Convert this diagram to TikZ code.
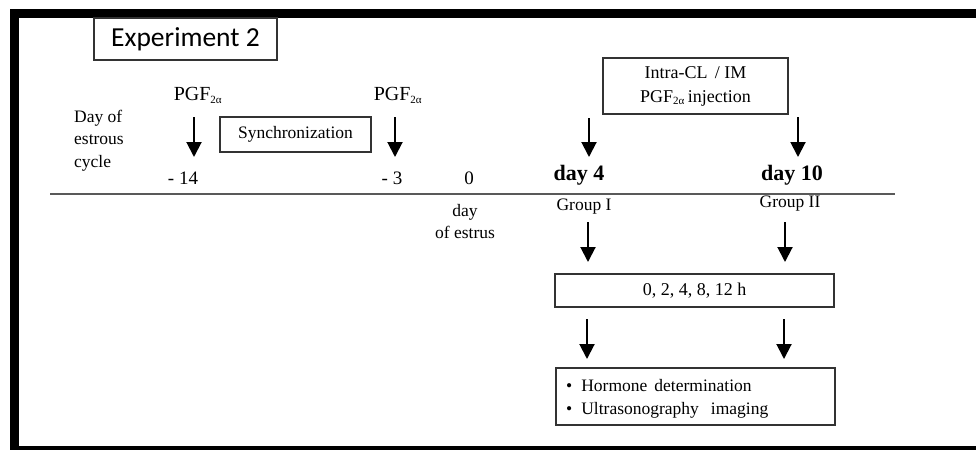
\documentclass[tikz,border=0pt]{standalone}
\usepackage{fontspec}
\setmainfont{Liberation Serif}
\newfontfamily\calib{Carlito}
\usetikzlibrary{arrows.meta}
\begin{document}
\begin{tikzpicture}[x=1pt,y=-1pt,
  txt/.style={font=\fontsize{17.5}{22.5}\selectfont, inner sep=0pt},
  pgf/.style={font=\fontsize{20}{24}\selectfont, inner sep=0pt},
  bold/.style={font=\fontsize{22}{26}\selectfont\bfseries, inner sep=0pt},
  boxed/.style={draw=black!80, line width=1.2pt, inner sep=0pt},
  arr/.style={line width=2pt, -{Triangle[width=15pt,length=15pt]}},
]
\useasboundingbox (0,0) rectangle (976,450);
\fill[white] (0,0) rectangle (976,450);
% frame
\fill[black] (10,9) rectangle (976,18);
\fill[black] (10,9) rectangle (19,450);
\fill[black] (10,446) rectangle (976,450);

% title
\node[boxed, minimum width=183pt, minimum height=42pt, font=\calib\fontsize{27.5}{30}\selectfont] (exp) at (185.5,39) {Experiment 2};

% left label
\node[txt, align=left, anchor=west] (daylbl) at (74,140.5) {Day of\\estrous\\cycle};

% PGF labels
\newcommand{\pgfa}[1][11]{PGF\textsubscript{\fontsize{#1}{#1}\selectfont 2α}}
\node[pgf] (pgf1) at (198,95) {\pgfa};
\node[pgf] (pgf2) at (398,95) {\pgfa};

% arrows at -14 and -3
\coordinate (a1s) at (194,117); \coordinate (a1e) at (194,157);
\coordinate (a2s) at (395,117); \coordinate (a2e) at (395,157);
\draw[arr] (a1s) -- (a1e);
\draw[arr] (a2s) -- (a2e);

% synchronization box
\node[boxed, minimum width=151pt, minimum height=35pt, txt, draw=black!80, line width=1.2pt] (sync) at (295.5,134.5) {Synchronization};

% day numbers
\node[pgf, font=\fontsize{19}{22}\selectfont] (m14) at (183,178) {- 14};
\node[pgf, font=\fontsize{19}{22}\selectfont] (m3) at (392,178) {- 3};
\node[pgf, font=\fontsize{19}{22}\selectfont] (d0) at (469,178) {0};
\node[bold] (d4) at (579,175) {day 4};
\node[bold] (d10) at (792,175) {day 10};

% axis line
\coordinate (l1) at (50,194); \coordinate (l2) at (895,194);
\draw[black!65, line width=1.5pt] (l1) -- (l2);

\node[txt, align=center] (estrus) at (465,221.5) {day\\of estrus};

% injection box
\node[boxed, minimum width=185pt, minimum height=56pt, align=center, font=\fontsize{18}{24}\selectfont] (inj) at (695.5,86) {Intra-CL \,/ IM\\PGF\textsubscript{\fontsize{11}{11}\selectfont 2α}\,injection};

\coordinate (a3s) at (589,118); \coordinate (a3e) at (589,157);
\coordinate (a4s) at (798,117); \coordinate (a4e) at (798,157);
\draw[arr] (a3s) -- (a3e);
\draw[arr] (a4s) -- (a4e);

\node[txt] (g1) at (584,207) {Group I};
\node[txt] (g2) at (790,204) {Group II};

% sampling box
\node[boxed, minimum width=279pt, minimum height=33pt, txt, font=\fontsize{18}{22}\selectfont] (hrs) at (694.5,290.5) {0, 2, 4, 8, 12 h};

\coordinate (a5s) at (588,222); \coordinate (a5e) at (588,262);
\coordinate (a6s) at (785,222); \coordinate (a6e) at (785,262);
\draw[arr] (a5s) -- (a5e);
\draw[arr] (a6s) -- (a6e);

% results box
\node[boxed, minimum width=279pt, minimum height=57pt] (res) at (695.5,396.5) {};
\node[txt, anchor=west, align=left] (restxt) at (566,398.5) {•\hspace{9pt}Hormone\hspace{7pt}determination\\[0.5pt]•\hspace{9pt}Ultrasonography\hspace{12pt}imaging};

\coordinate (a7s) at (587,319); \coordinate (a7e) at (587,359);
\coordinate (a8s) at (784,319); \coordinate (a8e) at (784,359);
\draw[arr] (a7s) -- (a7e);
\draw[arr] (a8s) -- (a8e);
\end{tikzpicture}
\end{document}
